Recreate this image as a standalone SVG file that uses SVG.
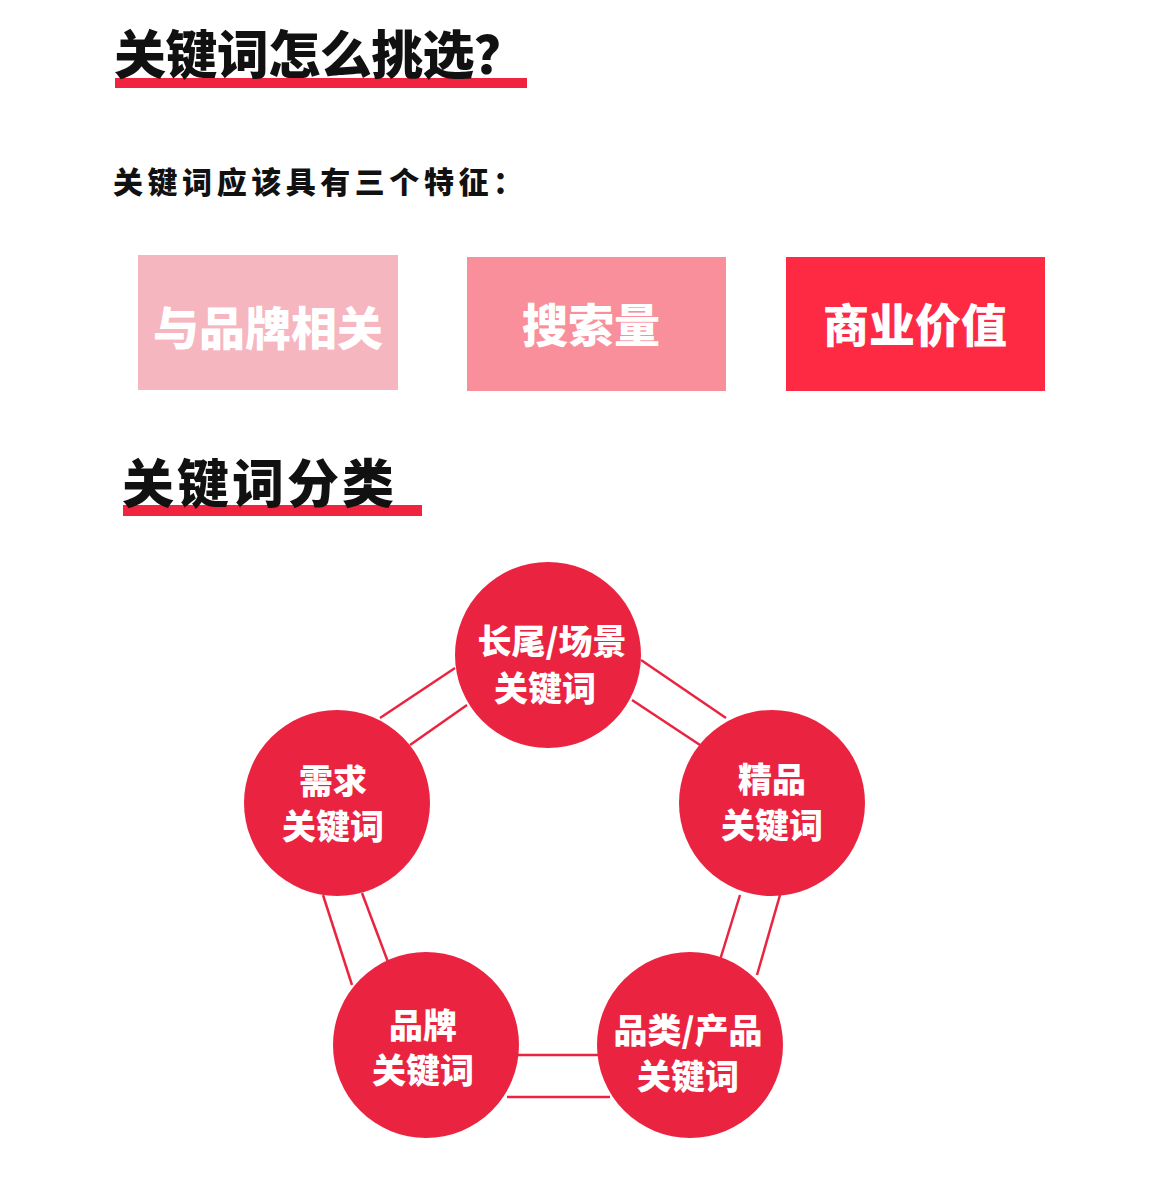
<svg xmlns="http://www.w3.org/2000/svg" width="1175" height="1201" viewBox="0 0 1175 1201">
<style>
text{font-family:"Noto Sans CJK SC","Noto Sans",sans-serif;font-weight:900}
.h{font-size:52px;fill:#111;letter-spacing:3px}
.bt{font-size:46px;fill:#fff;text-anchor:middle}
.ct{font-size:34px;fill:#fff;text-anchor:middle}
.c{fill:#ea2440}
.ln{stroke:#ea2440;stroke-width:2.5;fill:none}
</style>
<rect width="1175" height="1201" fill="#fff"/>
<rect x="115" y="78" width="412" height="10" fill="#f0243f"/>
<text class="h" x="114" y="74" textLength="415">关键词怎么挑选？</text>
<text x="113" y="193" font-size="30" fill="#111" textLength="410">关键词应该具有三个特征：</text>
<g id="box1"><rect x="138" y="255" width="260" height="135" fill="#f5b6bf"/><text class="bt" x="268" y="345">与品牌相关</text></g>
<g id="box2"><rect x="467" y="257" width="259" height="134" fill="#f98f9b"/><text class="bt" x="591" y="342">搜索量</text></g>
<g id="box3"><rect x="786" y="257" width="259" height="134" fill="#fe2a44"/><text class="bt" x="915" y="342">商业价值</text></g>
<rect x="123" y="505" width="299" height="11" fill="#f0243f"/>
<text class="h" x="122" y="503">关键词分类</text>
<g id="connectors" class="ln">
<line x1="380" y1="718" x2="455" y2="668"/><line x1="410" y1="745" x2="467" y2="705"/>
<line x1="641" y1="660" x2="726" y2="718"/><line x1="632" y1="700" x2="700" y2="745"/>
<line x1="323" y1="895" x2="352" y2="985"/><line x1="362" y1="893" x2="388" y2="962"/>
<line x1="740" y1="895" x2="720" y2="960"/><line x1="780" y1="895" x2="757" y2="975"/>
<line x1="507" y1="1055" x2="600" y2="1055"/><line x1="507" y1="1097" x2="610" y2="1097"/>
</g>
<g id="n1"><circle class="c" cx="548" cy="655" r="93"/><text class="ct" x="552" y="654">长尾/场景</text><text class="ct" x="545" y="701">关键词</text></g>
<g id="n2"><circle class="c" cx="772" cy="803" r="93"/><text class="ct" x="772" y="792">精品</text><text class="ct" x="772" y="838">关键词</text></g>
<g id="n3"><circle class="c" cx="337" cy="803" r="93"/><text class="ct" x="333" y="794">需求</text><text class="ct" x="333" y="839">关键词</text></g>
<g id="n4"><circle class="c" cx="426" cy="1045" r="93"/><text class="ct" x="423" y="1038">品牌</text><text class="ct" x="423" y="1083">关键词</text></g>
<g id="n5"><circle class="c" cx="690" cy="1045" r="93"/><text class="ct" x="688" y="1043">品类/产品</text><text class="ct" x="688" y="1089">关键词</text></g>
</svg>
